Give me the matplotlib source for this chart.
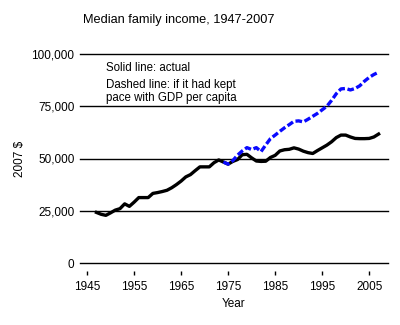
import matplotlib
matplotlib.use("Agg")
import matplotlib.pyplot as plt
from matplotlib.ticker import FuncFormatter

years_actual = list(range(1947, 2008))
actual = [24200, 23300, 22800, 24000, 25300, 26000, 28300, 27100, 29100, 31300,
          31300, 31300, 33300, 33700, 34200, 34800, 36000, 37500, 39200, 41200,
          42300, 44200, 46000, 46000, 46000, 48000, 49300, 48300, 47300, 48600,
          49500, 51800, 52000, 50300, 48800, 48600, 48700, 50500, 51500, 53600,
          54200, 54400, 55100, 54500, 53500, 52800, 52400, 53800, 55100, 56400,
          58000, 60000, 61200, 61200, 60300, 59600, 59500, 59500, 59600, 60300, 61700]

years_gdp = list(range(1974, 2008))
gdp_pace = [48300, 47300, 49000, 51600, 53600, 55200, 54300, 55200, 53300, 56500,
            59500, 61200, 63000, 64700, 66200, 67800, 68000, 67500, 68800, 70200,
            71600, 73300, 75000, 77800, 81000, 83300, 83500, 82800, 83500, 84800,
            87000, 88800, 90200, 91300]

xticks = [1945, 1955, 1965, 1975, 1985, 1995, 2005]
yticks = [0, 25000, 50000, 75000, 100000]

plt.rcParams['font.family'] = ['Liberation Sans', 'DejaVu Sans']

fig = plt.figure(figsize=(4.0, 3.25), dpi=100)
ax = fig.add_axes([80/400, 1-263/325, 308/400, (263-54)/325])

for y in yticks:
    ax.axhline(y, color='black', lw=1.0, zorder=1, clip_on=False)

ax.plot(years_actual, actual, color='black', lw=2.4, zorder=3, solid_joinstyle='round')
ax.plot(years_gdp, gdp_pace, color='#0a0aff', lw=2.4, ls=(0, (2.0, 0.8)), zorder=4)

ax.set_xlim(1943.5, 2009)
ax.set_ylim(0, 100000)
ax.set_xticks(xticks)
ax.set_yticks(yticks)
ax.yaxis.set_major_formatter(FuncFormatter(lambda v, p: f"{int(v):,}"))

for s in ['top', 'right', 'left']:
    ax.spines[s].set_visible(False)
ax.spines['bottom'].set_position(('outward', 5.8))
ax.spines['bottom'].set_color('none')

ax.tick_params(axis='x', length=3, width=1, direction='out', pad=4, labelsize=8.5, colors='black')
ax.tick_params(axis='y', length=0, pad=4, labelsize=8.5)
ax.set_facecolor('white')

ax.set_xlabel('Year', fontsize=8.5, labelpad=4)
ax.set_ylabel('2007 $', fontsize=8.5, labelpad=4)

fig.text(83/400, 1-20/325, 'Median family income, 1947-2007', fontsize=9.2, va='center', ha='left')
ax.text(1949.0, 96200, 'Solid line: actual', fontsize=8.3, va='top', ha='left')
ax.text(1949.0, 88000, 'Dashed line: if it had kept\npace with GDP per capita', fontsize=8.3,
        va='top', ha='left', linespacing=1.1)

fig.savefig('out.png', dpi=100, facecolor='white')
